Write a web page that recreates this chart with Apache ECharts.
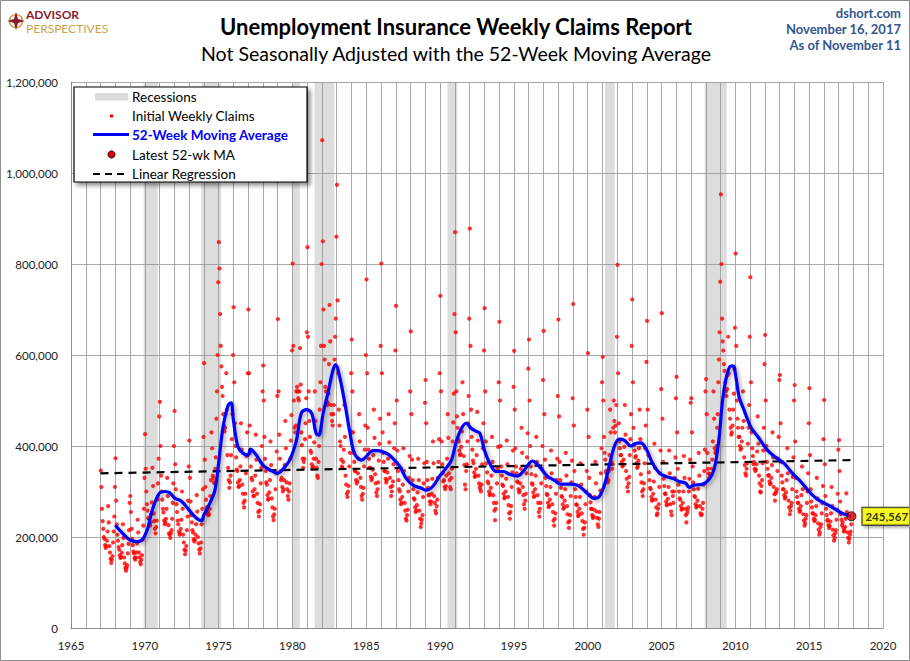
<!DOCTYPE html>
<html><head><meta charset="utf-8">
<script src="https://cdn.jsdelivr.net/npm/echarts@6/dist/echarts.min.js"></script>
<style>html,body{margin:0;padding:0;background:#fff}#c{width:910px;height:661px}</style>
</head><body><div id="c"></div><script>
// Weekly claims (thousands), two readings per month, from January of the start year
const claims1960s=[
346,310,262,235,218,200,196,182,176,180,192,212,268,232,180,166,152,143,150,158,188,212,245,310,
373,280,228,205,192,178,172,160,154,156,165,182,228,198,155,142,132,126,132,138,164,185,215,275,
290,255,218,196,182,168,164,154,150,155,166,186,238,210,166,155,145,140,150,160,194,225,262,330];
const claims1970s=[
426,350,300,272,258,242,240,228,225,232,250,276,352,312,252,235,218,208,222,236,282,318,372,465,
497,400,335,300,282,262,254,236,228,232,240,262,330,290,226,208,205,198,208,215,240,275,318,400,
477,360,305,272,255,236,228,212,205,208,218,238,300,262,205,188,172,162,170,180,215,245,280,355,
412,330,278,248,232,215,210,195,190,194,205,228,292,256,200,186,172,164,175,188,228,262,305,420,
582,370,310,282,265,252,256,248,250,262,290,325,430,395,335,330,320,318,350,375,460,520,600,760,
848,790,690,620,575,530,510,470,445,432,440,470,560,480,380,352,325,308,320,335,380,415,470,600,
705,540,450,400,375,348,345,320,310,312,325,355,450,392,315,295,275,265,280,295,340,378,430,560,
700,560,445,385,355,330,325,300,290,290,305,335,425,370,295,275,255,245,258,272,318,352,400,520,
577,500,420,372,345,320,315,292,282,284,298,325,410,358,285,265,245,237,250,262,305,340,388,510,
679,520,425,372,345,325,330,310,300,305,325,358,455,395,320,305,290,282,300,318,372,412,468,610];
const claims1980s=[
801,620,500,440,430,445,520,530,520,505,500,520,615,535,430,402,372,352,365,372,415,450,505,650,
837,640,520,455,420,390,385,360,352,355,372,408,520,455,372,352,335,330,365,400,480,540,620,800,
1072,850,700,620,590,530,520,500,490,495,515,580,710,630,490,470,455,445,470,490,590,640,680,860,
974,720,560,480,445,410,400,370,355,352,365,392,490,420,335,315,295,288,300,312,355,385,432,560,
634,520,430,385,365,345,345,325,318,322,340,372,470,410,330,310,290,282,295,308,355,392,445,600,
766,560,440,392,372,352,352,332,325,330,348,380,480,418,338,318,298,290,305,320,368,405,460,620,
801,560,430,385,365,345,345,328,320,325,342,372,470,408,330,310,290,300,312,322,360,395,450,610,
708,500,390,345,325,305,300,282,272,275,288,315,395,345,275,258,240,236,248,260,300,330,378,520,
652,470,370,325,305,285,282,265,255,258,270,298,372,325,258,240,222,230,238,248,288,318,362,495,
545,450,365,325,308,292,292,278,272,278,295,328,410,362,290,275,258,252,268,282,330,365,415,560];
const claims1990s=[
730,520,410,360,340,322,325,310,305,312,335,372,470,418,340,325,310,305,330,350,410,452,515,690,
870,650,520,465,440,415,410,390,380,382,398,432,540,470,378,358,315,305,345,360,410,450,510,680,
878,620,480,420,392,368,362,342,332,335,350,380,475,412,335,318,310,305,300,315,360,395,450,610,
703,520,410,362,342,322,318,300,292,295,308,335,420,365,292,275,258,237,262,275,318,350,398,540,
673,500,400,355,335,315,312,295,285,288,300,328,412,360,288,270,252,240,255,268,310,342,390,530,
609,480,395,355,340,322,320,305,298,302,318,350,440,385,310,292,272,262,280,295,340,375,428,570,
634,500,400,355,338,318,315,298,288,290,305,335,420,365,292,275,255,245,262,275,318,350,400,545,
653,470,370,330,312,295,292,275,266,268,282,310,390,340,272,255,236,225,240,252,295,325,372,510,
678,465,365,325,308,290,288,272,262,265,280,305,385,335,268,250,232,220,235,248,290,320,368,505,
712,445,345,305,288,272,270,255,246,248,262,288,362,315,252,235,218,205,220,232,272,300,345,480];
const claims2000s=[
604,420,330,292,276,262,262,248,242,245,260,288,365,318,256,242,228,222,240,255,302,340,395,540,
596,500,420,385,370,345,340,330,320,325,345,380,480,430,365,350,360,440,500,455,430,445,490,640,
798,560,450,410,395,380,380,365,355,358,370,398,490,425,345,328,310,300,318,332,380,415,470,620,
722,540,440,402,390,375,378,362,352,355,368,395,480,415,338,320,300,290,305,318,362,395,445,585,
675,480,380,342,325,308,305,288,280,282,295,322,405,352,282,265,248,252,262,272,310,340,390,525,
692,460,365,328,312,296,294,278,270,272,284,310,390,340,272,256,248,300,290,275,300,330,375,505,
552,430,350,315,300,285,282,268,260,262,275,300,378,330,262,248,232,252,258,265,300,328,370,495,
505,430,355,320,305,290,288,272,265,268,280,306,385,335,268,252,248,250,262,275,315,345,392,520,
547,470,385,350,340,330,338,335,338,350,370,410,520,460,395,385,390,400,440,470,540,590,650,761,
953,800,680,630,610,580,565,540,520,510,525,555,640,560,480,460,440,425,430,445,480,515,570,660];
const claims2010s=[
823,620,500,460,440,420,420,400,392,395,410,440,520,455,375,358,340,335,350,362,405,440,490,640,
771,540,430,395,378,360,365,350,345,348,360,388,465,405,335,318,300,298,312,325,362,390,440,580,
644,500,400,365,350,335,336,322,316,318,330,358,430,375,310,294,280,296,300,305,345,372,420,545,
556,450,365,335,320,305,305,292,285,288,298,325,395,340,280,265,250,258,268,275,305,332,375,500,
534,410,330,300,288,275,275,262,255,258,268,292,355,305,250,236,225,230,240,248,275,300,340,450,
527,380,305,278,265,252,252,240,235,238,248,268,330,285,230,216,205,210,222,228,252,275,312,415,
501,360,290,262,248,236,238,226,220,224,234,252,310,268,216,204,192,198,208,215,238,260,295,392,
413,345,278,250,238,226,232,220,212,214,222,240,296,255,210,198,188,196,205,212,228];

// 52-week moving average (thousands)
const maYears=[1968.0,1968.5,1969.0,1969.5,1969.85,1970.2,1970.5,1971.0,1971.35,1971.7,1972.0,1972.5,1973.0,1973.5,1973.85,1974.0,1974.4,1974.75,1975.0,1975.3,1975.65,1975.85,1976.0,1976.3,1976.65,1977.0,1977.15,1977.55,1978.0,1978.5,1979.0,1979.35,1979.83,1980.27,1980.6,1980.95,1981.3,1981.6,1981.78,1982.08,1982.4,1982.75,1982.93,1983.2,1983.55,1983.9,1984.2,1984.67,1985.0,1985.45,1985.8,1986.37,1986.8,1987.27,1987.7,1988.17,1988.74,1989.07,1989.5,1989.95,1990.4,1990.77,1991.1,1991.45,1991.78,1992.1,1992.46,1992.7,1993.0,1993.36,1993.8,1994.3,1994.7,1995.25,1995.7,1996.26,1996.7,1997.28,1997.73,1998.18,1998.75,1999.3,1999.9,2000.44,2000.73,2001.1,2001.45,2001.8,2002.13,2002.47,2002.92,2003.26,2003.6,2003.94,2004.39,2004.84,2005.3,2005.74,2006.2,2006.65,2006.87,2007.2,2007.77,2008.23,2008.57,2008.9,2009.12,2009.35,2009.62,2009.84,2010.07,2010.25,2010.59,2011.04,2011.6,2012.17,2012.73,2013.3,2013.86,2014.42,2014.99,2015.55,2016.12,2016.68,2017.25,2017.86];
const maValues=[226,208,193,190,195,219,259,297,300,297,286,278,259,241,236,248,274,303,362,442,490,495,457,399,384,380,393,380,358,347,340,349,370,413,472,480,472,428,424,472,516,567,579,552,494,428,384,369,377,390,390,384,373,355,329,314,307,303,311,333,351,369,410,439,450,439,432,428,391,362,344,344,338,334,347,367,356,333,325,316,316,314,298,285,287,311,355,399,415,413,400,406,407,395,362,341,333,329,322,318,309,314,316,327,350,418,497,545,574,576,545,508,479,442,417,391,375,362,340,322,300,283,273,263,252,245.567];

const recessions=[[1969.92,1970.88],[1973.83,1975.17],[1980.0,1980.5],[1981.5,1982.83],[1990.5,1991.17],[2001.17,2001.83],[2007.92,2009.42]];
const regYears=[1967.0,2017.86];
const regValues=[340,369];
const latestYear=2017.86, latestValue=245567;

function expand(arr,startYear){
  return arr.map((v,i)=>[startYear+Math.floor(i/24)+((i%24)+0.4)/24, v*1000]);
}
const claims=[].concat(expand(claims1960s,1967),expand(claims1970s,1970),expand(claims1980s,1980),
  expand(claims1990s,1990),expand(claims2000s,2000),expand(claims2010s,2010));
const ma=maYears.map((y,i)=>[y,maValues[i]*1000]);
const reg=regYears.map((y,i)=>[y,regValues[i]*1000]);

const FONT="Lato, 'Noto Sans', sans-serif";
const fmt=v=>Math.round(v).toLocaleString('en-US');
const chart=echarts.init(document.getElementById('c'),null,{renderer:'svg'});
const gridColor='#a8a8a8';
chart.setOption({
  animation:false,
  backgroundColor:'#fff',
  grid:{left:71,right:27,top:82,bottom:33,containLabel:false},
  xAxis:{type:'value',min:1965,max:2020,interval:5,
    axisLine:{show:true,lineStyle:{color:'#8c8c8c'}},axisTick:{show:false},
    axisLabel:{margin:11,fontSize:11.5,color:'#222',fontFamily:FONT,formatter:v=>String(v)},
    splitLine:{show:true,lineStyle:{color:gridColor,width:1}},
    minorTick:{show:false,splitNumber:5},
    minorSplitLine:{show:true,lineStyle:{color:gridColor,width:1}}},
  yAxis:{type:'value',min:0,max:1200000,interval:200000,
    axisLine:{show:true,lineStyle:{color:'#8c8c8c'}},axisTick:{show:false},
    axisLabel:{margin:13,fontSize:11.5,color:'#222',fontFamily:FONT,formatter:v=>fmt(v)},
    splitLine:{show:true,lineStyle:{color:gridColor,width:1}}},
  series:[
    {type:'custom',z:1,silent:true,data:recessions,
      renderItem:function(params,api){
        const p0=api.coord([api.value(0),1200000]);
        const p1=api.coord([api.value(1),0]);
        return {type:'rect',shape:{x:p0[0],y:p0[1],width:p1[0]-p0[0],height:p1[1]-p0[1]},
          style:{fill:'rgba(150,150,150,0.32)'}};
      }},
    {type:'scatter',name:'Initial Weekly Claims',z:2,data:claims,symbol:'circle',symbolSize:4.2,
      itemStyle:{color:'#ff0000'},silent:true},
    {type:'line',name:'Linear Regression',z:3,data:reg,symbol:'none',silent:true,
      lineStyle:{color:'#000',width:2.2,type:[8,6]}},
    {type:'line',name:'52-Week Moving Average',z:4,data:ma,symbol:'none',smooth:0.35,silent:true,
      lineStyle:{color:'#0000ff',width:3.2,shadowColor:'rgba(0,0,0,0.35)',shadowBlur:4,shadowOffsetX:2,shadowOffsetY:2}},
    {type:'scatter',name:'Latest 52-wk MA',z:5,data:[[latestYear,latestValue]],symbol:'circle',symbolSize:9,
      itemStyle:{color:'#e00000',borderColor:'#000',borderWidth:1},
      label:{show:true,position:'right',distance:6,formatter:p=>fmt(p.value[1]),
        fontFamily:FONT,fontWeight:'bold',fontSize:11.5,color:'#000',backgroundColor:'#ffff00',
        borderColor:'#000',borderWidth:1,padding:[3,3,2,3],
        shadowColor:'rgba(0,0,0,0.4)',shadowBlur:3,shadowOffsetX:2,shadowOffsetY:2}}
  ],
  graphic:[
    {type:'rect',shape:{x:0.5,y:0.5,width:909,height:660},style:{fill:'none',stroke:'#8c8c8c',lineWidth:1},z:100},
    {type:'text',x:456,y:26,style:{text:'Unemployment Insurance Weekly Claims Report',fontFamily:FONT,fontSize:22,fontWeight:'bold',fill:'#000',align:'center',verticalAlign:'middle'}},
    {type:'text',x:456,y:53,style:{text:'Not Seasonally Adjusted with the 52-Week Moving Average',fontFamily:FONT,fontSize:19.5,fill:'#000',align:'center',verticalAlign:'middle'}},
    {type:'text',x:901,y:13,style:{text:'dshort.com',fontFamily:FONT,fontSize:13,fontWeight:'bold',fill:'#34578f',align:'right',verticalAlign:'middle'}},
    {type:'text',x:901,y:29,style:{text:'November 16, 2017',fontFamily:FONT,fontSize:13,fontWeight:'bold',fill:'#34578f',align:'right',verticalAlign:'middle'}},
    {type:'text',x:901,y:45,style:{text:'As of November 11',fontFamily:FONT,fontSize:13,fontWeight:'bold',fill:'#34578f',align:'right',verticalAlign:'middle'}},
    // logo
    {type:'circle',shape:{cx:16,cy:21,r:6.5},style:{fill:'none',stroke:'#c9a24e',lineWidth:1.5}},
    {type:'polygon',shape:{points:[[16,12],[18,19],[25,21],[18,23],[16,30],[14,23],[7,21],[14,19]]},style:{fill:'#8b1c2c'}},
    {type:'text',x:26,y:14,style:{text:'ADVISOR',fontFamily:FONT,fontSize:12,fontWeight:'bold',fill:'#8b1c2c',align:'left',verticalAlign:'middle'}},
    {type:'text',x:26,y:28,style:{text:'PERSPECTIVES',fontFamily:FONT,fontSize:12,fill:'#c9a24e',align:'left',verticalAlign:'middle'}},
    // legend box
    {type:'rect',z:50,shape:{x:74,y:87,width:233,height:95},style:{fill:'#fff',stroke:'#000',lineWidth:1.2,shadowColor:'rgba(0,0,0,0.45)',shadowBlur:4,shadowOffsetX:3,shadowOffsetY:3}},
    {type:'rect',z:51,shape:{x:95,y:93,width:33,height:7.5},style:{fill:'#dcdcdc'}},
    {type:'text',z:51,x:132,y:97,style:{text:'Recessions',fontFamily:FONT,fontSize:13.5,fill:'#000',verticalAlign:'middle'}},
    {type:'circle',z:51,shape:{cx:111.5,cy:116,r:1.8},style:{fill:'#ff0000'}},
    {type:'text',z:51,x:132,y:116,style:{text:'Initial Weekly Claims',fontFamily:FONT,fontSize:13.5,fill:'#000',verticalAlign:'middle'}},
    {type:'line',z:51,shape:{x1:93,y1:134.5,x2:129,y2:134.5},style:{stroke:'#0000ff',lineWidth:3}},
    {type:'text',z:51,x:132,y:135,style:{text:'52-Week Moving Average',fontFamily:FONT,fontSize:13.5,fontWeight:'bold',fill:'#0000ff',verticalAlign:'middle'}},
    {type:'circle',z:51,shape:{cx:111.5,cy:154.5,r:3.6},style:{fill:'#e00000',stroke:'#000',lineWidth:0.8}},
    {type:'text',z:51,x:132,y:154.5,style:{text:'Latest 52-wk MA',fontFamily:FONT,fontSize:13.5,fill:'#000',verticalAlign:'middle'}},
    {type:'line',z:51,shape:{x1:93,y1:174,x2:129,y2:174},style:{stroke:'#000',lineWidth:2,lineDash:[7,5]}},
    {type:'text',z:51,x:132,y:174,style:{text:'Linear Regression',fontFamily:FONT,fontSize:13.5,fill:'#000',verticalAlign:'middle'}}
  ]
});
</script></body></html>
